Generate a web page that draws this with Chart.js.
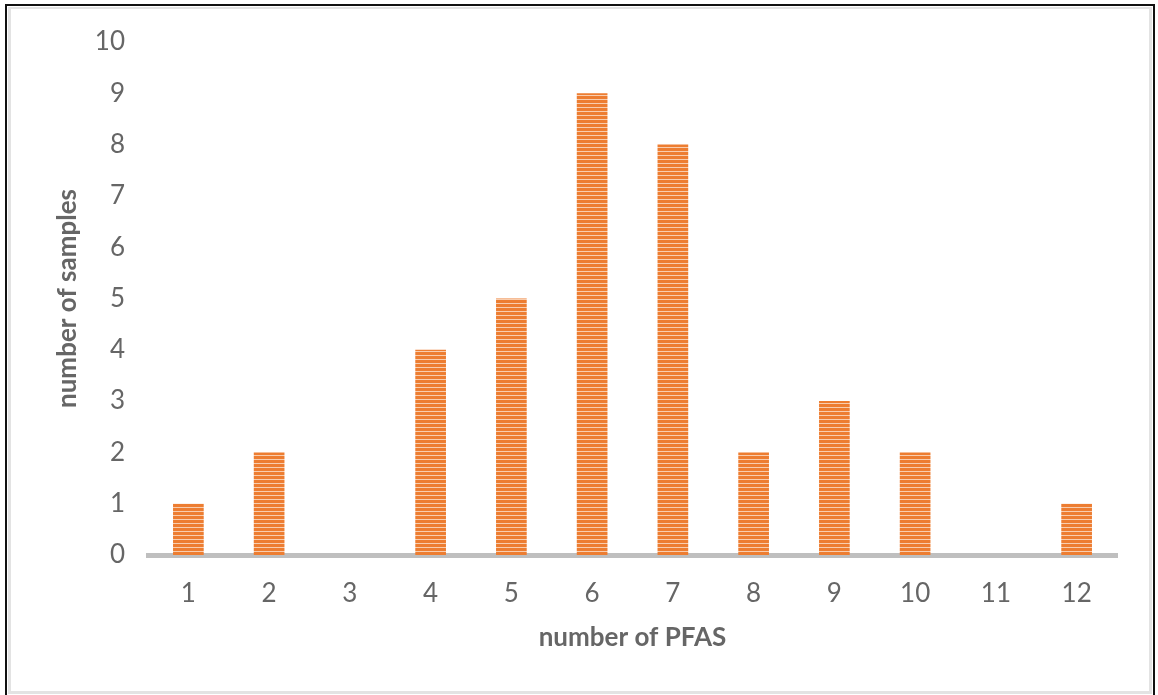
<!DOCTYPE html>
<html>
<head>
<meta charset="utf-8">
<script src="https://cdn.jsdelivr.net/npm/chart.js@4.4.1/dist/chart.umd.min.js"></script>
<style>
  html, body { margin: 0; padding: 0; background: #fff; }
  body { width: 1158px; height: 695px; position: relative; overflow: hidden; }
  #wrap { position: absolute; left: 0; top: 0; width: 1158px; height: 695px; }
  #outer { position: absolute; left: 5px; top: 4px; width: 1146px; height: 720px; border: 2px solid #111; pointer-events: none; }
  #inner { position: absolute; left: 8px; top: 7px; width: 1138px; height: 682px; border: 3px solid #e3e3e3; border-top-width: 2px; pointer-events: none; }
</style>
</head>
<body>
<div id="wrap"><canvas id="c" width="1158" height="695"></canvas></div>
<div id="inner"></div>
<div id="outer"></div>
<script>
const categories = ['1','2','3','4','5','6','7','8','9','10','11','12'];
const sampleCounts = [1, 2, 0, 4, 5, 9, 8, 2, 3, 2, 0, 1];
const yTickMin = 0;
const yTickMax = 10;
const yTickStep = 1;

function stripePattern() {
  const p = document.createElement('canvas');
  p.width = 4; p.height = 4;
  const g = p.getContext('2d');
  g.fillStyle = '#ED7D31';
  g.fillRect(0, 0, 4, 4);
  g.fillStyle = '#F9CDAE';
  g.fillRect(0, 3, 4, 1);
  return g.createPattern(p, 'repeat');
}

const textColor = '#666666';
const fontFamily = 'Lato, "Open Sans", sans-serif';

new Chart(document.getElementById('c'), {
  type: 'bar',
  data: {
    labels: categories,
    datasets: [{
      data: sampleCounts,
      backgroundColor: stripePattern(),
      borderWidth: 0,
      categoryPercentage: 1,
      barPercentage: 0.38
    }]
  },
  options: {
    responsive: false,
    animation: false,
    devicePixelRatio: 1,
    layout: { padding: { left: 52, right: 41, top: 42, bottom: 42 } },
    plugins: { legend: { display: false }, tooltip: { enabled: false } },
    scales: {
      x: {
        afterFit: (s) => { s.height = 98; },
        grid: { display: false, drawTicks: false },
        border: { display: true, color: '#BFBFBF', width: 5 },
        ticks: { color: textColor, font: { family: fontFamily, size: 26 }, padding: 23 },
        title: { display: true, text: 'number of PFAS', color: textColor, font: { family: fontFamily, size: 26, weight: 'bold' }, padding: { top: 14, bottom: 0 } }
      },
      y: {
        afterFit: (s) => { s.width = 96; },
        min: yTickMin, max: yTickMax,
        grid: { display: false, drawTicks: false },
        border: { display: false },
        ticks: { stepSize: yTickStep, color: textColor, font: { family: fontFamily, size: 26 }, padding: 23 },
        title: { display: true, text: 'number of samples', color: textColor, font: { family: fontFamily, size: 26, weight: 'bold' }, padding: { top: 0, bottom: 14 } }
      }
    }
  }
});
</script>
</body>
</html>
